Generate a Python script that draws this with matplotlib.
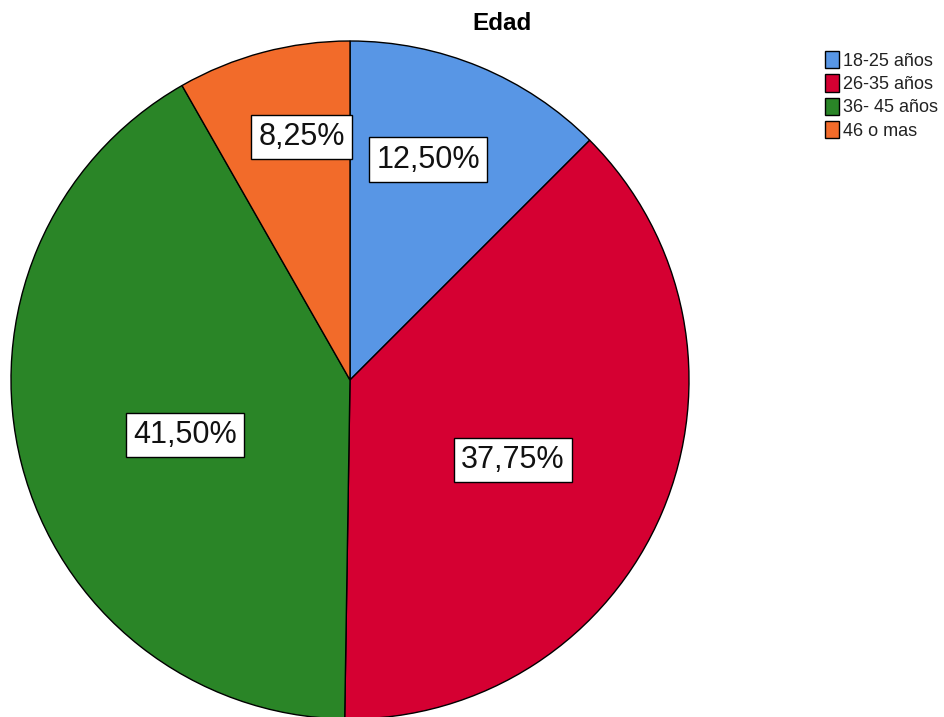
import matplotlib.pyplot as plt
import numpy as np

plt.rcParams['font.family'] = ['Liberation Sans', 'DejaVu Sans']

# Datos
categorias = ['18-25 años', '26-35 años', '36- 45 años', '46 o mas']
porcentajes = [12.50, 37.75, 41.50, 8.25]
etiquetas = ['12,50%', '37,75%', '41,50%', '8,25%']
colores = ['#5896E5', '#D50032', '#2A8527', '#F26B2A']

fig = plt.figure(figsize=(9.45, 7.17), dpi=100)
ax = fig.add_axes([0, 0, 1, 1])

centro = (350, 337)
radio = 339
wedges, _ = ax.pie(porcentajes, colors=colores, startangle=90, counterclock=False,
                   center=centro, radius=radio, frame=True,
                   wedgeprops=dict(edgecolor='black', linewidth=1))
ax.set_xlim(0, 945)
ax.set_ylim(0, 717)
ax.set_aspect('equal')
ax.axis('off')

# posicion de etiquetas (fraccion del radio y ajuste de angulo)
dist = [0.689, 0.536, 0.513, 0.731]
ajuste = [3.0, -3.2, 4.0, -3.65]
for w, txt, d, a in zip(wedges, etiquetas, dist, ajuste):
    ang = np.deg2rad((w.theta1 + w.theta2) / 2 + a)
    x = centro[0] + d * radio * np.cos(ang)
    y = centro[1] + d * radio * np.sin(ang)
    ax.text(x, y, txt, ha='center', va='center', fontsize=22, color='#111111',
            bbox=dict(boxstyle='square,pad=0.24', facecolor='white', edgecolor='black', linewidth=1))

fig.text(502 / 945, 1 - 23 / 717, 'Edad', ha='center', va='center',
         fontsize=17.5, fontweight='bold')

ax.legend(wedges, categorias, loc='upper left', bbox_to_anchor=(816 / 945, 1 - 42 / 717),
          bbox_transform=fig.transFigure, frameon=False, fontsize=13,
          handlelength=0.75, handleheight=1.1, handletextpad=0.25,
          labelspacing=0.25, borderpad=0, labelcolor='#222222')

fig.savefig('out.png', dpi=100)
